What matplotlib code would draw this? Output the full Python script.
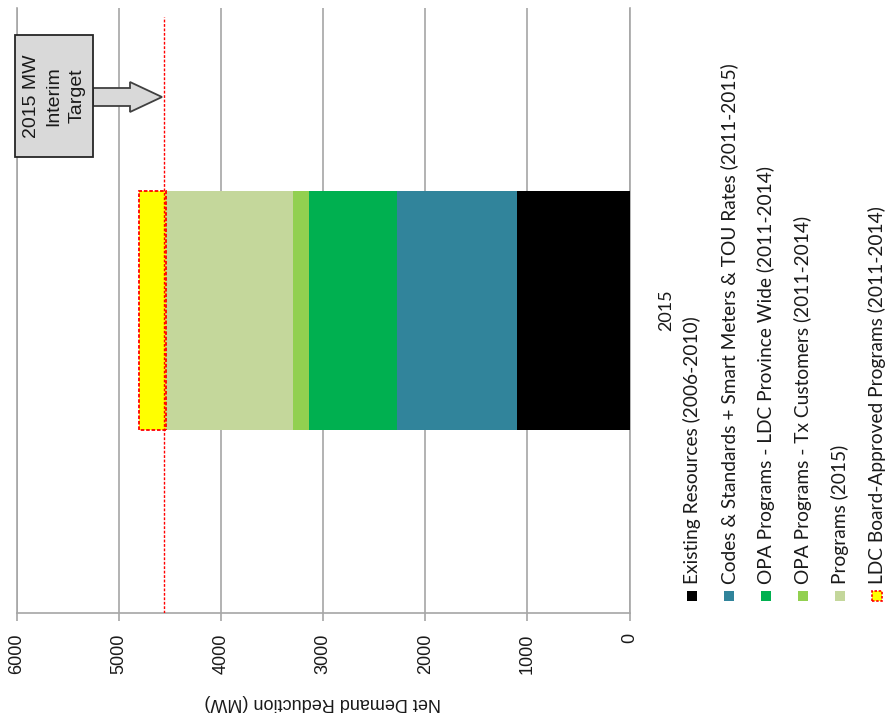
import matplotlib
matplotlib.use("Agg")
import matplotlib.pyplot as plt
from matplotlib.patches import Rectangle, Polygon

W, H = 889, 713

category = ["2015"]
series_labels = [
    "Existing Resources (2006-2010)",
    "Codes & Standards + Smart Meters & TOU Rates (2011-2015)",
    "OPA Programs - LDC Province Wide (2011-2014)",
    "OPA Programs - Tx Customers (2011-2014)",
    "Programs (2015)",
    "LDC Board-Approved Programs (2011-2014)",
]
series_values = [1104, 1169, 864, 164, 1236, 272]
series_colors = ["#000000", "#31849B", "#00B050", "#92D050", "#C4D79B", "#FFFF00"]
target_value = 4562
target_text = "2015 MW\nInterim\nTarget"
xticks = [6000, 5000, 4000, 3000, 2000, 1000, 0]
axis_title = "Net Demand Reduction (MW)"

fig = plt.figure(figsize=(W / 100, H / 100), dpi=100)


def fx(x):
    return x / W


def fy(y):
    return 1 - y / H


ax = fig.add_axes([fx(17), fy(613), (629.5 - 17) / W, (613 - 8) / H])
ax.set_xlim(6000, 0)
ax.set_ylim(-0.5, 0.5)

grid_c = "#A6A6A6"
ax.set_xticks(xticks)
ax.set_xticklabels([str(t) for t in xticks], rotation=90,
                   fontfamily="Liberation Sans", fontsize=13, color="#1a1a1a")
ax.tick_params(axis="x", length=6, color=grid_c, width=1.2, pad=8.5)
ax.grid(axis="x", color=grid_c, linewidth=1.2, zorder=0)
ax.set_axisbelow(True)
ax.spines["top"].set_visible(False)
for s in ["left", "right", "bottom"]:
    ax.spines[s].set_color(grid_c)
    ax.spines[s].set_linewidth(1.2)

# stacked bar
left = 0
for i, (lab, v, c) in enumerate(zip(series_labels, series_values, series_colors)):
    if i == len(series_values) - 1:
        ax.barh([0], [v], left=left, height=0.395, color=c, edgecolor="#FF0000",
                linestyle=(0, (2, 1)), linewidth=1.3, zorder=3)
    else:
        ax.barh([0], [v], left=left, height=0.395, color=c, edgecolor="none", zorder=3)
    left += v

ax.axvline(target_value, ymin=0, ymax=(613 - 17) / 605, color="#FF0000",
           linestyle=(0, (2, 1.2)), linewidth=1.0, zorder=4)

# category label on right
ax.set_yticks([0])
ax.set_yticklabels(category, rotation=90, fontfamily="Lato", fontsize=13,
                   color="#1a1a1a", va="center")
ax.yaxis.tick_right()
ax.tick_params(axis="y", length=0, pad=21)

# axis title (upside down)
fig.text(fx(323), fy(703), axis_title, rotation=180, ha="center", va="center",
         fontfamily="Liberation Sans", fontsize=13, color="#1a1a1a")

# legend (rotated)
leg_x = [692, 729, 766, 803, 840, 877]
for lx, lab, c, i in zip(leg_x, series_labels, series_colors, range(6)):
    if i == 5:
        r = Rectangle((fx(lx - 5), fy(601)), 10 / W, 10 / H, transform=fig.transFigure,
                      facecolor=c, edgecolor="#FF0000", linestyle=(0, (1.5, 1)),
                      linewidth=1.2)
    else:
        r = Rectangle((fx(lx - 5), fy(601)), 10 / W, 10 / H, transform=fig.transFigure,
                      facecolor=c, edgecolor="none")
    fig.patches.append(r)
    fig.text(fx(lx), fy(584), lab, rotation=90, rotation_mode="anchor",
             ha="left", va="center", fontfamily="Lato", fontsize=13.8, color="#1a1a1a")

# annotation arrow + box
arrow_pts = [(93, 88), (130, 88), (130, 82), (162, 97), (130, 112), (130, 106), (93, 106)]
fig.patches.append(Polygon([(fx(x), fy(y)) for x, y in arrow_pts], closed=True,
                           transform=fig.transFigure, facecolor="#D9D9D9",
                           edgecolor="#404040", linewidth=1.3, zorder=5))
fig.patches.append(Rectangle((fx(15), fy(157)), 78 / W, 122 / H, transform=fig.transFigure,
                             facecolor="#D9D9D9", edgecolor="#262626", linewidth=1.3,
                             zorder=6))
fig.text(fx(54), fy(96), target_text, rotation=90, ha="center", va="center",
         multialignment="center", fontfamily="Liberation Sans", fontsize=14,
         color="#1a1a1a", linespacing=1.45, zorder=7)

fig.savefig("out.png", dpi=100)
